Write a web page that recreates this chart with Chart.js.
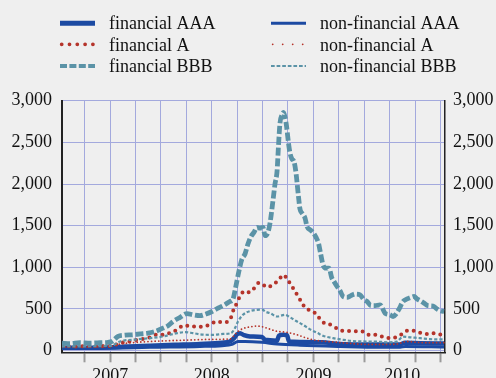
<!DOCTYPE html>
<html>
<head>
<meta charset="utf-8">
<script src="https://cdn.jsdelivr.net/npm/chart.js@4.4.1/dist/chart.umd.min.js"></script>
<style>
  html, body { margin: 0; padding: 0; background: #efefef; width: 496px; height: 378px; overflow: hidden; }
  #wrap { width: 496px; height: 400px; position: relative; }
</style>
</head>
<body>
<div id="wrap"><canvas id="chart"></canvas></div>
<script>
// Credit spreads, basis points; x = decimal year
const seriesNames = ['financial AAA', 'financial A', 'financial BBB',
                     'non-financial AAA', 'non-financial A', 'non-financial BBB'];
const yearLabels = ['2007', '2008', '2009', '2010'];
const valueTicks = [0, 500, 1000, 1500, 2000, 2500, 3000];

const financialAAA = [
  [2007.026, 35], [2007.400, 35], [2007.518, 40], [2007.646, 50], [2007.892, 60],
  [2008.138, 70], [2008.384, 80], [2008.601, 95], [2008.679, 110], [2008.719, 150],
  [2008.748, 195], [2008.778, 210], [2008.817, 185], [2008.876, 170], [2008.994, 165],
  [2009.024, 130], [2009.142, 120], [2009.161, 180], [2009.201, 190], [2009.240, 185],
  [2009.260, 110], [2009.368, 105], [2009.585, 100], [2009.762, 80], [2009.959, 75],
  [2010.353, 75], [2010.402, 95], [2010.550, 90], [2010.786, 85]
];
const financialA = [
  [2007.026, 55], [2007.154, 50], [2007.302, 55], [2007.449, 55], [2007.518, 60],
  [2007.597, 90], [2007.685, 110], [2007.764, 130], [2007.872, 150], [2007.951, 190],
  [2008.030, 190], [2008.119, 230], [2008.168, 255], [2008.217, 300], [2008.286, 298],
  [2008.355, 285], [2008.414, 290], [2008.483, 312], [2008.542, 350], [2008.601, 340],
  [2008.670, 355], [2008.699, 430], [2008.719, 510], [2008.748, 570], [2008.778, 655],
  [2008.827, 715], [2008.866, 700], [2008.925, 760], [2008.965, 815], [2009.004, 790],
  [2009.053, 760], [2009.093, 790], [2009.132, 820], [2009.171, 870], [2009.206, 910],
  [2009.245, 852], [2009.285, 780], [2009.319, 710], [2009.353, 645], [2009.388, 570],
  [2009.427, 505], [2009.477, 480], [2009.536, 430], [2009.580, 350], [2009.644, 325],
  [2009.713, 280], [2009.777, 240], [2009.841, 235], [2009.920, 232], [2009.989, 228],
  [2010.057, 185], [2010.126, 190], [2010.185, 165], [2010.254, 150], [2010.323, 165],
  [2010.372, 200], [2010.422, 240], [2010.481, 240], [2010.540, 218], [2010.609, 200],
  [2010.678, 210], [2010.747, 195], [2010.786, 190]
];
const financialBBB = [
  [2007.026, 90], [2007.105, 85], [2007.203, 95], [2007.302, 90], [2007.400, 95],
  [2007.479, 100], [2007.518, 110], [2007.577, 170], [2007.646, 185], [2007.715, 190],
  [2007.794, 200], [2007.872, 210], [2007.941, 230], [2008.020, 270], [2008.069, 300],
  [2008.119, 350], [2008.188, 400], [2008.256, 445], [2008.315, 430], [2008.384, 420],
  [2008.443, 440], [2008.502, 470], [2008.561, 510], [2008.620, 545], [2008.679, 590],
  [2008.709, 620], [2008.738, 780], [2008.768, 960], [2008.797, 1100], [2008.827, 1160],
  [2008.856, 1280], [2008.886, 1370], [2008.915, 1420], [2008.945, 1480], [2008.974, 1470],
  [2009.004, 1480], [2009.024, 1380], [2009.053, 1420], [2009.073, 1530], [2009.102, 1800],
  [2009.122, 2000], [2009.142, 2150], [2009.156, 2450], [2009.171, 2730], [2009.191, 2830],
  [2009.206, 2860], [2009.221, 2800], [2009.235, 2700], [2009.255, 2490], [2009.270, 2370],
  [2009.289, 2300], [2009.309, 2270], [2009.329, 2130], [2009.353, 1850], [2009.368, 1700],
  [2009.388, 1650], [2009.418, 1590], [2009.437, 1490], [2009.467, 1450], [2009.496, 1420],
  [2009.526, 1360], [2009.550, 1290], [2009.570, 1170], [2009.595, 1030], [2009.624, 990],
  [2009.654, 990], [2009.679, 880], [2009.703, 830], [2009.733, 770], [2009.762, 720],
  [2009.792, 650], [2009.831, 640], [2009.870, 660], [2009.910, 680], [2009.959, 670],
  [2009.998, 610], [2010.028, 590], [2010.067, 540], [2010.107, 540], [2010.156, 550],
  [2010.205, 450], [2010.254, 430], [2010.284, 410], [2010.313, 440], [2010.343, 500],
  [2010.382, 590], [2010.422, 620], [2010.461, 640], [2010.491, 650], [2010.520, 620],
  [2010.550, 600], [2010.589, 570], [2010.628, 540], [2010.678, 535], [2010.717, 500],
  [2010.756, 475], [2010.786, 470]
];
const nonFinancialAAA = [
  [2007.026, 25], [2007.518, 30], [2007.892, 40], [2008.384, 50], [2008.601, 60],
  [2008.699, 75], [2008.758, 110], [2008.827, 110], [2008.994, 100], [2009.142, 80],
  [2009.368, 65], [2009.762, 50], [2010.156, 40], [2010.353, 40], [2010.402, 50],
  [2010.786, 45]
];
const nonFinancialA = [
  [2007.026, 45], [2007.302, 45], [2007.498, 50], [2007.577, 75], [2007.666, 90],
  [2007.892, 110], [2008.089, 120], [2008.286, 128], [2008.483, 135], [2008.679, 140],
  [2008.719, 180], [2008.748, 220], [2008.807, 265], [2008.876, 285], [2008.945, 295],
  [2009.004, 285], [2009.043, 270], [2009.142, 232], [2009.240, 220], [2009.339, 190],
  [2009.437, 150], [2009.536, 122], [2009.634, 110], [2009.733, 100], [2009.831, 90],
  [2009.929, 80], [2010.028, 75], [2010.225, 75], [2010.323, 80], [2010.392, 105],
  [2010.422, 110], [2010.520, 100], [2010.648, 95], [2010.786, 95]
];
const nonFinancialBBB = [
  [2007.026, 50], [2007.203, 50], [2007.400, 55], [2007.518, 60], [2007.597, 110],
  [2007.764, 135], [2007.892, 150], [2008.020, 170], [2008.158, 210], [2008.237, 222],
  [2008.315, 210], [2008.414, 192], [2008.512, 190], [2008.611, 200], [2008.689, 210],
  [2008.728, 270], [2008.758, 350], [2008.807, 430], [2008.876, 475], [2008.945, 490],
  [2008.994, 492], [2009.033, 465], [2009.073, 450], [2009.142, 410], [2009.221, 430],
  [2009.270, 400], [2009.339, 350], [2009.398, 310], [2009.467, 255], [2009.536, 215],
  [2009.595, 178], [2009.693, 150], [2009.792, 130], [2009.890, 115], [2009.989, 110],
  [2010.126, 108], [2010.225, 100], [2010.323, 110], [2010.382, 168], [2010.451, 160],
  [2010.550, 150], [2010.648, 138], [2010.747, 135], [2010.786, 135]
];

const BLUE = '#1c4aa2';
const RED = '#b5342b';
const TEAL = '#5b93a7';
const GRID = '#a3a9dd';
const FONT = "'Liberation Serif', 'Times New Roman', serif";

// axis range: first week of 2007 to mid-October 2010; quarters shown through Q3 2010
const X_MIN = 2007.026, X_MAX = 2010.795, LAST_QUARTER = 2010.75;
const yearCentres = yearLabels.map(y => (Number(y) + Math.min(Number(y) + 1, LAST_QUARTER)) / 2);
const isQuarter = v => Math.abs(v * 4 - Math.round(v * 4)) < 1e-6;

const toPoints = arr => arr.map(([x, y]) => ({ x, y }));

// line styles: plot dash and legend sample dash
const styles = [
  { color: BLUE, width: 4.5, dash: [],        cap: 'butt',  legendWidth: 5,   legendDash: [] },
  { color: RED,  width: 4,   dash: [0, 6.8],  cap: 'round', legendWidth: 3.8, legendDash: [0, 7.8] },
  { color: TEAL, width: 4.8, dash: [8, 2.8],  cap: 'butt',  legendWidth: 4,   legendDash: [7, 2.4] },
  { color: BLUE, width: 3,   dash: [],        cap: 'butt',  legendWidth: 3,   legendDash: [] },
  { color: RED,  width: 1.8, dash: [0, 3.6],  cap: 'round', legendWidth: 1.8, legendDash: [0, 10] },
  { color: TEAL, width: 2.2, dash: [3.2, 2],  cap: 'butt',  legendWidth: 2,   legendDash: [3.7, 1.9] }
];
const seriesData = [financialAAA, financialA, financialBBB, nonFinancialAAA, nonFinancialA, nonFinancialBBB];
const drawOrder = [4, 2, 0, 5, 3, 1];

const datasets = seriesData.map((d, i) => ({
  label: seriesNames[i],
  data: toPoints(d),
  borderColor: styles[i].color,
  borderWidth: styles[i].width,
  borderDash: styles[i].dash,
  borderCapStyle: styles[i].cap,
  borderJoinStyle: 'round',
  pointRadius: 0,
  fill: false,
  cubicInterpolationMode: 'monotone',
  order: drawOrder[i]
}));

// two-column legend above the plot
const legendPlugin = {
  id: 'twoColumnLegend',
  afterDraw(chart) {
    const ctx = chart.ctx;
    const colX = [60, 271];
    const lineY = [23.3, 44.3, 66];
    const textY = [29.3, 50.7, 72.4];
    ctx.save();
    seriesNames.forEach((name, i) => {
      const col = Math.floor(i / 3), row = i % 3;
      const s = styles[i];
      const x0 = colX[col];
      ctx.beginPath();
      ctx.strokeStyle = s.color;
      ctx.lineWidth = s.legendWidth;
      ctx.lineCap = s.cap;
      ctx.setLineDash(s.legendDash);
      const start = s.cap === 'round' ? x0 + 1.7 : x0;
      ctx.moveTo(start, lineY[row]);
      ctx.lineTo(x0 + 35, lineY[row]);
      ctx.stroke();
      ctx.setLineDash([]);
      ctx.fillStyle = '#111111';
      ctx.font = '18px ' + FONT;
      ctx.textBaseline = 'alphabetic';
      ctx.textAlign = 'left';
      ctx.fillText(name, x0 + 49, textY[row]);
    });
    ctx.restore();
  }
};

const yAxisCommon = {
  type: 'linear',
  min: -20,
  max: 3000,
  bounds: 'data',
  afterBuildTicks: s => { s.ticks = valueTicks.map(v => ({ value: v })); },
  ticks: {
    font: { family: FONT, size: 18 },
    color: '#111111',
    autoSkip: false,
    callback: v => v.toLocaleString('en-US')
  }
};

new Chart(document.getElementById('chart'), {
  type: 'line',
  data: { datasets },
  plugins: [legendPlugin],
  options: {
    responsive: true,
    maintainAspectRatio: false,
    animation: false,
    devicePixelRatio: 1,
    layout: { padding: { top: 100.7, left: 0, right: 0, bottom: 0 } },
    plugins: { legend: { display: false }, tooltip: { enabled: false } },
    scales: {
      x: {
        type: 'linear',
        min: X_MIN,
        max: X_MAX,
        bounds: 'data',
        afterBuildTicks: s => {
          const t = [];
          for (let q = 2007.25; q <= LAST_QUARTER + 1e-9; q += 0.25) t.push({ value: Math.round(q * 100) / 100 });
          yearCentres.forEach(v => { if (!t.some(k => Math.abs(k.value - v) < 1e-6)) t.push({ value: v }); });
          t.sort((a, b) => a.value - b.value);
          s.ticks = t;
        },
        afterFit: s => { s.height = 400 - 352.3; },
        grid: {
          color: c => (c.tick && !isQuarter(c.tick.value)) ? 'rgba(0,0,0,0)' : GRID,
          tickColor: c => (c.tick && !isQuarter(c.tick.value)) ? 'rgba(0,0,0,0)' : '#9a9a9a',
          lineWidth: 1,
          tickWidth: 2,
          tickLength: 10
        },
        border: { display: true, color: '#222222', width: 1.5 },
        ticks: {
          autoSkip: false,
          maxRotation: 0,
          padding: 3,
          font: { family: FONT, size: 18 },
          color: '#111111',
          callback: v => {
            const k = yearCentres.findIndex(c => Math.abs(c - v) < 1e-6);
            return k >= 0 ? yearLabels[k] : '';
          }
        }
      },
      y: Object.assign({}, yAxisCommon, {
        position: 'left',
        afterFit: s => { s.width = 62; },
        grid: { color: GRID, lineWidth: 1, drawTicks: false },
        border: { display: true, color: '#222222', width: 2 },
        ticks: Object.assign({}, yAxisCommon.ticks, { padding: 10 })
      }),
      y2: Object.assign({}, yAxisCommon, {
        position: 'right',
        afterFit: s => { s.width = 51; },
        grid: { display: false, drawTicks: false },
        border: { display: true, color: '#222222', width: 1.5 },
        ticks: Object.assign({}, yAxisCommon.ticks, { padding: 8 })
      })
    }
  }
});
</script>
</body>
</html>
